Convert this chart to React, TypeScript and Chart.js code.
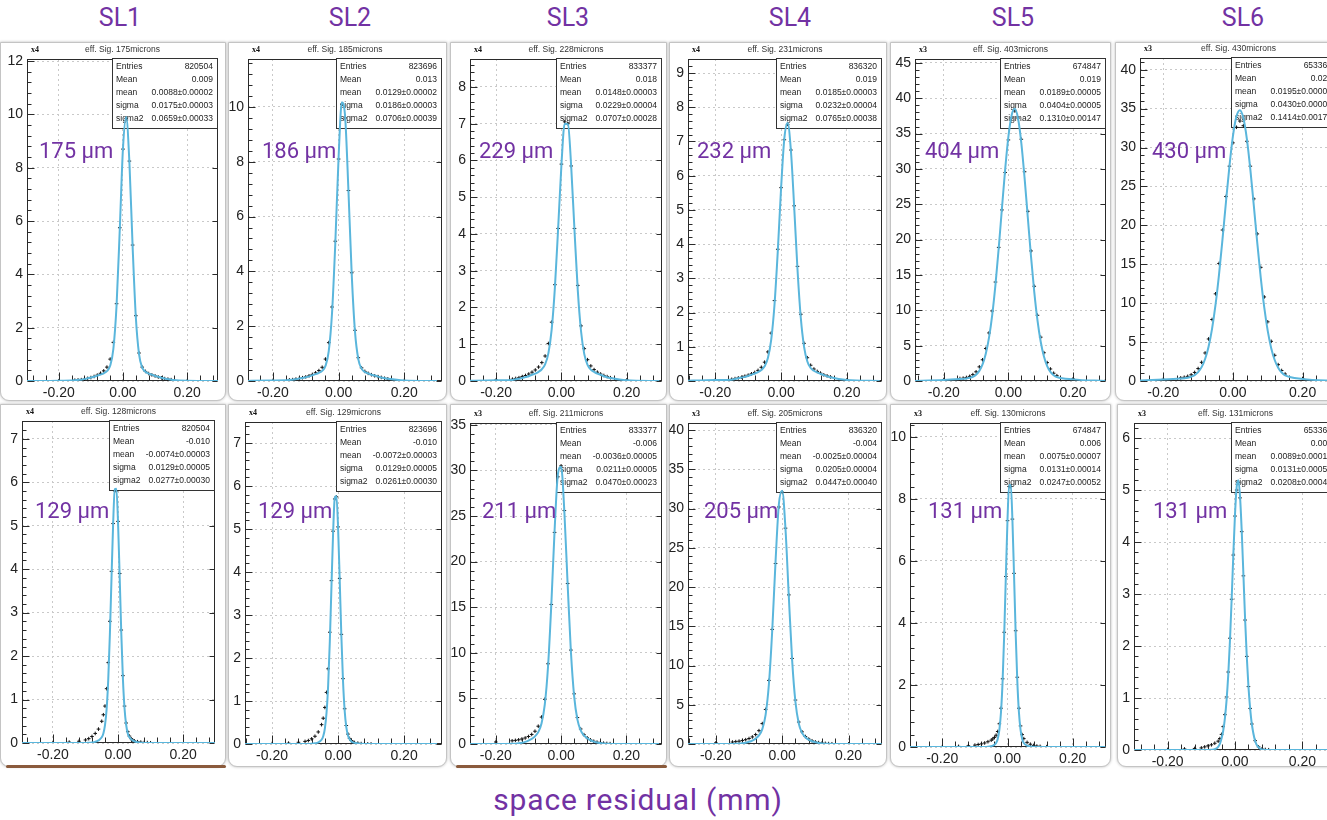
import React, { useEffect, useRef } from "react";
import { Chart, registerables } from "chart.js";
Chart.register(...registerables);

// ---------- shared grids ----------
const GRID_W = [-0.30, -0.20, -0.15, -0.14, -0.13, -0.12, -0.11, -0.10, -0.09, -0.08, -0.07, -0.06, -0.05, -0.04, -0.03, -0.02, -0.01, 0.00, 0.01, 0.02, 0.03, 0.04, 0.05, 0.06, 0.07, 0.08, 0.09, 0.10, 0.11, 0.12, 0.13, 0.14, 0.15, 0.20, 0.30];
const GRID_N = [-0.30, -0.20, -0.15, -0.12, -0.10, -0.09, -0.08, -0.07, -0.06, -0.05, -0.045, -0.04, -0.035, -0.03, -0.025, -0.02, -0.015, -0.01, -0.005, 0.00, 0.005, 0.01, 0.015, 0.02, 0.025, 0.03, 0.035, 0.04, 0.045, 0.05, 0.06, 0.07, 0.08, 0.09, 0.10, 0.12, 0.15, 0.20, 0.30];

// ---------- top row (SL1..SL6) ----------
const FIT_1 = [0, 0.01, 0.03, 0.04, 0.05, 0.07, 0.10, 0.13, 0.16, 0.20, 0.24, 0.29, 0.37, 0.57, 1.20, 2.83, 5.69, 8.73, 9.90, 8.20, 5.05, 2.40, 1.01, 0.50, 0.35, 0.28, 0.24, 0.19, 0.16, 0.12, 0.09, 0.07, 0.05, 0.01, 0];
const DATA_1 = [0, 0.01, 0.03, 0.04, 0.05, 0.07, 0.10, 0.13, 0.17, 0.22, 0.29, 0.38, 0.52, 0.82, 1.45, 2.90, 5.75, 8.70, 9.85, 8.25, 5.10, 2.45, 1.05, 0.52, 0.36, 0.28, 0.23, 0.19, 0.15, 0.12, 0.09, 0.07, 0.05, 0.01, 0];
const FIT_2 = [0, 0.02, 0.04, 0.05, 0.06, 0.09, 0.11, 0.14, 0.17, 0.21, 0.25, 0.30, 0.37, 0.55, 1.09, 2.48, 5.04, 8.17, 10.17, 9.63, 6.94, 3.89, 1.79, 0.80, 0.45, 0.33, 0.28, 0.23, 0.20, 0.16, 0.13, 0.10, 0.08, 0.02, 0];
const DATA_2 = [0, 0.02, 0.04, 0.05, 0.07, 0.09, 0.12, 0.15, 0.19, 0.24, 0.30, 0.38, 0.50, 0.80, 1.40, 2.70, 5.10, 8.10, 10.10, 9.60, 6.95, 3.95, 1.85, 0.85, 0.48, 0.35, 0.28, 0.23, 0.19, 0.16, 0.13, 0.10, 0.08, 0.02, 0];
const FIT_3 = [0, 0.02, 0.03, 0.05, 0.06, 0.08, 0.11, 0.13, 0.17, 0.20, 0.25, 0.32, 0.45, 0.75, 1.39, 2.54, 4.17, 5.88, 7.00, 6.98, 5.82, 4.10, 2.48, 1.36, 0.73, 0.44, 0.31, 0.25, 0.20, 0.17, 0.13, 0.10, 0.08, 0.02, 0];
const DATA_3 = [0, 0.03, 0.05, 0.07, 0.09, 0.12, 0.15, 0.19, 0.24, 0.30, 0.38, 0.50, 0.68, 1.02, 1.60, 2.62, 4.15, 5.90, 7.05, 7.00, 5.85, 4.15, 2.60, 1.50, 0.88, 0.58, 0.41, 0.31, 0.24, 0.19, 0.15, 0.12, 0.09, 0.03, 0];
const FIT_4 = [0, 0.03, 0.04, 0.06, 0.08, 0.10, 0.12, 0.15, 0.18, 0.22, 0.26, 0.32, 0.43, 0.67, 1.20, 2.22, 3.78, 5.62, 7.09, 7.54, 6.73, 5.07, 3.26, 1.85, 1.00, 0.57, 0.38, 0.30, 0.25, 0.21, 0.17, 0.14, 0.11, 0.03, 0];
const DATA_4 = [0, 0.03, 0.05, 0.07, 0.09, 0.11, 0.14, 0.17, 0.21, 0.25, 0.31, 0.40, 0.55, 0.85, 1.40, 2.35, 3.85, 5.65, 7.05, 7.50, 6.75, 5.12, 3.35, 1.95, 1.10, 0.68, 0.46, 0.35, 0.28, 0.23, 0.18, 0.15, 0.12, 0.03, 0];
const FIT_5 = [0, 0.15, 0.27, 0.30, 0.36, 0.45, 0.60, 0.90, 1.43, 2.34, 3.84, 6.13, 9.37, 13.64, 18.78, 24.41, 29.93, 34.56, 37.59, 38.50, 37.10, 33.66, 28.76, 23.16, 17.59, 12.61, 8.57, 5.55, 3.45, 2.10, 1.28, 0.82, 0.56, 0.23, 0];
const DATA_5 = [0.02, 0.20, 0.35, 0.40, 0.50, 0.65, 0.90, 1.30, 2.00, 3.00, 4.60, 6.80, 9.90, 14.0, 18.9, 24.2, 29.5, 34.1, 37.2, 38.2, 37.2, 34.2, 29.6, 24.0, 18.4, 13.4, 9.3, 6.2, 4.0, 2.6, 1.7, 1.1, 0.75, 0.30, 0.02];
const FIT_6 = [0, 0.18, 0.31, 0.35, 0.42, 0.55, 0.76, 1.14, 1.78, 2.82, 4.41, 6.70, 9.80, 13.68, 18.20, 23.00, 27.60, 31.45, 33.98, 34.80, 33.79, 31.12, 27.18, 22.53, 17.72, 13.26, 9.45, 6.44, 4.22, 2.70, 1.70, 1.09, 0.73, 0.27, 0];
const DATA_6 = [0.02, 0.22, 0.40, 0.48, 0.60, 0.80, 1.10, 1.60, 2.40, 3.60, 5.40, 7.90, 11.2, 15.1, 19.4, 23.7, 27.6, 30.6, 32.6, 33.4, 32.8, 30.8, 27.6, 23.4, 18.9, 14.6, 10.8, 7.6, 5.1, 3.3, 2.1, 1.35, 0.90, 0.32, 0.02];

// ---------- bottom row ----------
const FIT_7 = [0, 0, 0, 0, 0, 0.004, 0.011, 0.027, 0.06, 0.13, 0.22, 0.41, 0.78, 1.46, 2.50, 3.79, 5.04, 5.84, 5.85, 5.09, 3.85, 2.54, 1.49, 0.80, 0.42, 0.22, 0.13, 0.09, 0.06, 0.04, 0.018, 0.007, 0.002, 0, 0, 0, 0, 0, 0];
const DATA_7 = [0, 0.01, 0.02, 0.04, 0.07, 0.10, 0.15, 0.22, 0.32, 0.50, 0.65, 0.85, 1.25, 1.85, 2.80, 3.95, 5.05, 5.80, 5.80, 5.10, 3.90, 2.60, 1.55, 0.85, 0.46, 0.26, 0.16, 0.10, 0.07, 0.05, 0.03, 0.02, 0.01, 0.01, 0.005, 0, 0, 0, 0];
const FIT_8 = [0, 0, 0, 0, 0, 0.001, 0.004, 0.017, 0.04, 0.10, 0.18, 0.36, 0.72, 1.37, 2.38, 3.66, 4.91, 5.72, 5.77, 5.04, 3.82, 2.52, 1.47, 0.78, 0.39, 0.20, 0.11, 0.065, 0.04, 0.027, 0.011, 0.004, 0.001, 0, 0, 0, 0, 0, 0];
const DATA_8 = [0, 0.01, 0.02, 0.04, 0.06, 0.08, 0.12, 0.18, 0.28, 0.45, 0.60, 0.85, 1.20, 1.75, 2.60, 3.80, 4.95, 5.70, 5.75, 5.05, 3.85, 2.55, 1.52, 0.82, 0.43, 0.23, 0.13, 0.08, 0.05, 0.035, 0.02, 0.01, 0.005, 0.003, 0.002, 0, 0, 0, 0];
const FIT_9 = [0, 0, 0.02, 0.04, 0.08, 0.14, 0.23, 0.37, 0.56, 0.84, 1.30, 2.24, 4.31, 8.50, 15.27, 23.37, 29.52, 30.39, 25.46, 17.52, 10.14, 5.23, 2.67, 1.50, 0.94, 0.63, 0.41, 0.26, 0.16, 0.10, 0.05, 0.03, 0.01, 0, 0];
const DATA_9 = [0.10, 0.22, 0.35, 0.40, 0.46, 0.55, 0.66, 0.82, 1.05, 1.40, 1.95, 2.95, 4.90, 8.80, 15.3, 23.2, 29.3, 30.5, 25.6, 17.6, 10.3, 5.5, 2.9, 1.65, 1.02, 0.68, 0.45, 0.30, 0.20, 0.13, 0.09, 0.06, 0.04, 0.01, 0];
const FIT_10 = [0, 0, 0.01, 0.03, 0.05, 0.10, 0.17, 0.28, 0.44, 0.69, 1.09, 1.89, 3.72, 7.64, 14.47, 23.27, 30.55, 32.28, 27.38, 18.79, 10.69, 5.35, 2.62, 1.41, 0.86, 0.55, 0.35, 0.22, 0.13, 0.07, 0.04, 0.02, 0.01, 0, 0];
const DATA_10 = [0.05, 0.15, 0.25, 0.30, 0.36, 0.44, 0.55, 0.70, 0.90, 1.20, 1.70, 2.60, 4.40, 8.10, 14.6, 23.0, 30.2, 32.1, 27.5, 19.0, 10.9, 5.6, 2.8, 1.55, 0.95, 0.62, 0.41, 0.27, 0.18, 0.12, 0.08, 0.05, 0.03, 0.01, 0];
const FIT_11 = [0, 0, 0, 0, 0, 0, 0, 0.001, 0.01, 0.027, 0.042, 0.07, 0.13, 0.26, 0.55, 1.12, 2.14, 3.67, 5.55, 7.34, 8.45, 8.45, 7.34, 5.55, 3.67, 2.14, 1.12, 0.55, 0.26, 0.13, 0.042, 0.016, 0.005, 0.001, 0, 0, 0, 0, 0];
const DATA_11 = [0, 0.01, 0.02, 0.04, 0.06, 0.08, 0.10, 0.13, 0.17, 0.22, 0.26, 0.31, 0.38, 0.50, 0.75, 1.25, 2.20, 3.70, 5.50, 7.30, 8.40, 8.40, 7.35, 5.60, 3.75, 2.25, 1.25, 0.68, 0.40, 0.27, 0.15, 0.09, 0.05, 0.03, 0.02, 0.01, 0, 0, 0];
const FIT_12 = [0, 0, 0, 0, 0, 0, 0, 0.003, 0.014, 0.062, 0.12, 0.22, 0.37, 0.61, 0.96, 1.45, 2.10, 2.89, 3.75, 4.53, 5.06, 5.19, 4.87, 4.21, 3.37, 2.52, 1.80, 1.22, 0.80, 0.50, 0.17, 0.05, 0.01, 0.002, 0, 0, 0, 0, 0];
const DATA_12 = [0, 0.01, 0.02, 0.03, 0.04, 0.06, 0.08, 0.10, 0.13, 0.17, 0.22, 0.30, 0.45, 0.68, 1.02, 1.50, 2.15, 2.90, 3.75, 4.50, 5.00, 5.15, 4.85, 4.20, 3.35, 2.50, 1.80, 1.22, 0.80, 0.50, 0.18, 0.06, 0.02, 0.01, 0.005, 0, 0, 0, 0];

// ---------- texts ----------
const SL_LABELS = ["SL1", "SL2", "SL3", "SL4", "SL5", "SL6"];
const TITLES = ["eff. Sig. 175microns", "eff. Sig. 185microns", "eff. Sig. 228microns", "eff. Sig. 231microns", "eff. Sig. 403microns", "eff. Sig. 430microns",
  "eff. Sig. 128microns", "eff. Sig. 129microns", "eff. Sig. 211microns", "eff. Sig. 205microns", "eff. Sig. 130microns", "eff. Sig. 131microns"];
const MULTS = ["x4", "x4", "x4", "x4", "x3", "x3", "x4", "x4", "x3", "x3", "x3", "x3"];
const RES_LABELS = ["175 µm", "186 µm", "229 µm", "232 µm", "404 µm", "430 µm", "129 µm", "129 µm", "211 µm", "205 µm", "131 µm", "131 µm"];
const STAT_NAMES = ["Entries", "Mean", "mean", "sigma", "sigma2"];
const STATS = [
  ["820504", "0.009", "0.0088±0.00002", "0.0175±0.00003", "0.0659±0.00033"],
  ["823696", "0.013", "0.0129±0.00002", "0.0186±0.00003", "0.0706±0.00039"],
  ["833377", "0.018", "0.0148±0.00003", "0.0229±0.00004", "0.0707±0.00028"],
  ["836320", "0.019", "0.0185±0.00003", "0.0232±0.00004", "0.0765±0.00038"],
  ["674847", "0.019", "0.0189±0.00005", "0.0404±0.00005", "0.1310±0.00147"],
  ["653362", "0.020", "0.0195±0.00005", "0.0430±0.00005", "0.1414±0.00170"],
  ["820504", "-0.010", "-0.0074±0.00003", "0.0129±0.00005", "0.0277±0.00030"],
  ["823696", "-0.010", "-0.0072±0.00003", "0.0129±0.00005", "0.0261±0.00030"],
  ["833377", "-0.006", "-0.0036±0.00005", "0.0211±0.00005", "0.0470±0.00023"],
  ["836320", "-0.004", "-0.0025±0.00004", "0.0205±0.00004", "0.0447±0.00040"],
  ["674847", "0.006", "0.0075±0.00007", "0.0131±0.00014", "0.0247±0.00052"],
  ["653362", "0.009", "0.0089±0.00010", "0.0131±0.00050", "0.0208±0.00040"],
];
const X_TICKS = [-0.2, 0, 0.2];
const X_MINOR = [-0.28, -0.24, -0.16, -0.12, -0.08, -0.04, 0.04, 0.08, 0.12, 0.16, 0.24, 0.28];
const Y_TICKS = [
  [0, 2, 4, 6, 8, 10, 12], [0, 2, 4, 6, 8, 10], [0, 1, 2, 3, 4, 5, 6, 7, 8], [0, 1, 2, 3, 4, 5, 6, 7, 8, 9],
  [0, 5, 10, 15, 20, 25, 30, 35, 40, 45], [0, 5, 10, 15, 20, 25, 30, 35, 40],
  [0, 1, 2, 3, 4, 5, 6, 7], [0, 1, 2, 3, 4, 5, 6, 7], [0, 5, 10, 15, 20, 25, 30, 35], [0, 5, 10, 15, 20, 25, 30, 35, 40],
  [0, 2, 4, 6, 8, 10], [0, 1, 2, 3, 4, 5, 6],
];

// ---------- layout (page px) ----------
const PURPLE = "#7232a3";
const BLUE = "#5ab6dc";
type Panel = {
  grid: number[]; fit: number[]; data: number[]; idx: number;
  frame: number[]; plot: number[]; xr: number[]; yMax: number; yMinor: number;
  res: number[]; brown?: boolean;
};
const PANELS: Panel[] = [
  { idx: 0, grid: GRID_W, fit: FIT_1, data: DATA_1, frame: [0, 42, 226, 359], plot: [27, 59, 218, 381], xr: [-0.299, 0.296], yMax: 12.08, yMinor: 0.4, res: [39, 151] },
  { idx: 1, grid: GRID_W, fit: FIT_2, data: DATA_2, frame: [228, 42, 219, 359], plot: [248, 59, 443, 381], xr: [-0.276, 0.315], yMax: 11.75, yMinor: 0.4, res: [262, 151] },
  { idx: 2, grid: GRID_W, fit: FIT_3, data: DATA_3, frame: [450, 42, 217, 359], plot: [470, 59, 663, 381], xr: [-0.280, 0.308], yMax: 8.76, yMinor: 0.2, res: [479, 151] },
  { idx: 3, grid: GRID_W, fit: FIT_4, data: DATA_4, frame: [669, 42, 218, 359], plot: [688, 59, 884, 381], xr: [-0.283, 0.307], yMax: 9.41, yMinor: 0.2, res: [697, 151] },
  { idx: 4, grid: GRID_W, fit: FIT_5, data: DATA_5, frame: [890, 42, 221, 359], plot: [915, 59, 1107, 381], xr: [-0.289, 0.302], yMax: 45.55, yMinor: 1, res: [925, 151] },
  { idx: 5, grid: GRID_W, fit: FIT_6, data: DATA_6, frame: [1115, 42, 230, 359], plot: [1140, 58, 1337, 381], xr: [-0.267, 0.299], yMax: 41.5, yMinor: 1, res: [1152, 151] },
  { idx: 6, grid: GRID_N, fit: FIT_7, data: DATA_7, frame: [0, 404, 226, 363], plot: [22, 421, 215, 743], xr: [-0.295, 0.298], yMax: 7.41, yMinor: 0.2, res: [35, 511], brown: true },
  { idx: 7, grid: GRID_N, fit: FIT_8, data: DATA_8, frame: [228, 404, 219, 363], plot: [245, 422, 442, 744], xr: [-0.282, 0.315], yMax: 7.49, yMinor: 0.2, res: [258, 511] },
  { idx: 8, grid: GRID_W, fit: FIT_9, data: DATA_9, frame: [450, 404, 217, 363], plot: [470, 423, 664, 744], xr: [-0.279, 0.309], yMax: 35.2, yMinor: 1, res: [482, 511], brown: true },
  { idx: 9, grid: GRID_W, fit: FIT_10, data: DATA_10, frame: [669, 404, 218, 363], plot: [688, 423, 884, 744], xr: [-0.284, 0.301], yMax: 40.9, yMinor: 1, res: [704, 511] },
  { idx: 10, grid: GRID_N, fit: FIT_11, data: DATA_11, frame: [890, 404, 221, 363], plot: [910, 423, 1107, 747], xr: [-0.299, 0.302], yMax: 10.45, yMinor: 0.4, res: [928, 511] },
  { idx: 11, grid: GRID_N, fit: FIT_12, data: DATA_12, frame: [1117, 404, 228, 363], plot: [1134, 423, 1337, 750], xr: [-0.300, 0.303], yMax: 6.29, yMinor: 0.2, res: [1153, 511] },
];
const SL_X = [120, 350, 568, 790, 1013, 1243];

const TICK_FONT = { family: "'Liberation Sans', Arial, sans-serif", size: 14 };

function makePlugin(p: Panel) {
  return {
    id: "rootPanel" + p.idx,
    beforeDatasetsDraw(chart: any) {
      const { ctx, chartArea: a } = chart;
      const xs = chart.scales.x, ys = chart.scales.y;
      ctx.save();
      ctx.strokeStyle = "#2a2a2a";
      ctx.lineWidth = 1;
      const L = Math.round(a.left) + 0.5, T = Math.round(a.top) + 0.5;
      const R = Math.round(a.right) - 0.5, B = Math.round(a.bottom) - 0.5;
      ctx.strokeRect(L, T, R - L, B - T);
      ctx.beginPath();
      // y ticks (inward)
      const yt = Y_TICKS[p.idx];
      yt.forEach((v) => {
        const y = Math.round(ys.getPixelForValue(v)) + 0.5;
        ctx.moveTo(L, y); ctx.lineTo(L + 7, y);
        ctx.moveTo(R, y); ctx.lineTo(R - 5, y);
      });
      for (let k = 1; k * p.yMinor < p.yMax; k++) {
        const v = k * p.yMinor;
        if (yt.some((t) => Math.abs(t - v) < 1e-6)) continue;
        const y = Math.round(ys.getPixelForValue(v)) + 0.5;
        ctx.moveTo(L, y); ctx.lineTo(L + 4, y);
      }
      X_TICKS.forEach((v) => {
        const x = Math.round(xs.getPixelForValue(v)) + 0.5;
        ctx.moveTo(x, B); ctx.lineTo(x, B - 8);
      });
      X_MINOR.forEach((v) => {
        if (v < p.xr[0] || v > p.xr[1]) return;
        const x = Math.round(xs.getPixelForValue(v)) + 0.5;
        ctx.moveTo(x, B); ctx.lineTo(x, B - 5);
      });
      ctx.stroke();
      // stats box
      const bw = 105, bh = 70;
      const bx = Math.round(a.right) - 1 - bw, by = Math.round(a.top) - 1;
      ctx.fillStyle = "#ffffff";
      ctx.fillRect(bx, by, bw, bh);
      ctx.strokeStyle = "#333";
      ctx.strokeRect(bx + 0.5, by + 0.5, bw, bh);
      ctx.font = "8.5px 'Liberation Sans', Arial, sans-serif";
      ctx.fillStyle = "#222";
      ctx.textBaseline = "middle";
      const st = STATS[p.idx];
      STAT_NAMES.forEach((n, i) => {
        const y = by + 9 + i * 12.8;
        ctx.textAlign = "left";
        ctx.fillText(n, bx + 4, y);
        ctx.textAlign = "right";
        ctx.fillText(st[i], bx + bw - 4, y);
      });
      ctx.restore();
    },
    afterDraw(chart: any) {
      const { ctx, chartArea: a } = chart;
      ctx.save();
      ctx.textBaseline = "middle";
      ctx.fillStyle = "#333";
      ctx.font = "8.5px 'Liberation Sans', Arial, sans-serif";
      ctx.textAlign = "center";
      ctx.fillText(TITLES[p.idx], (a.left + a.right) / 2, a.top - 9);
      ctx.font = "bold 8px 'Liberation Serif', serif";
      ctx.textAlign = "left";
      ctx.fillStyle = "#111";
      ctx.fillText(MULTS[p.idx], a.left + 4, a.top - 9);
      ctx.restore();
    },
  };
}

function PanelChart({ p }: { p: Panel }) {
  const ref = useRef<HTMLCanvasElement>(null);
  const [fl, ft, W, H] = p.frame;
  const [pl, pt, pr, pb] = p.plot;
  const cw = Math.max(W, pr - fl + 2);
  useEffect(() => {
    const canvas = ref.current!;
    const fitPts = p.grid.map((x, i) => ({ x, y: p.fit[i] }));
    const dataPts = p.grid.map((x, i) => ({ x, y: p.data[i] })).filter((d) => d.y > 0);
    const yt = Y_TICKS[p.idx];
    const chart = new Chart(canvas, {
      type: "line",
      data: {
        datasets: [
          { data: fitPts, borderColor: BLUE, borderWidth: 2, pointRadius: 0, cubicInterpolationMode: "monotone", fill: false } as any,
          { data: dataPts, showLine: false, pointStyle: "cross", pointRadius: 1.8, pointBorderColor: "#111", pointBorderWidth: 1, pointBackgroundColor: "#111", borderColor: "#111" } as any,
        ],
      },
      options: {
        responsive: false,
        animation: false,
        devicePixelRatio: 1,
        events: [],
        layout: { padding: { left: 0, top: pt - ft, right: cw - (pr - fl), bottom: 0 } },
        plugins: { legend: { display: false }, tooltip: { enabled: false } },
        scales: {
          x: {
            type: "linear",
            min: p.xr[0],
            max: p.xr[1],
            afterBuildTicks: (s: any) => { s.ticks = X_TICKS.map((v) => ({ value: v })); },
            afterFit: (s: any) => { s.height = H - (pb - ft); },
            ticks: { callback: (v: any) => Number(v).toFixed(2), font: TICK_FONT, color: "#222", padding: 4, maxRotation: 0, autoSkip: false },
            grid: { color: "#c9c9c9", lineWidth: 1, drawTicks: false },
            border: { display: false, dash: [2, 3] },
          },
          y: {
            type: "linear",
            min: 0,
            max: p.yMax,
            afterBuildTicks: (s: any) => { s.ticks = yt.map((v) => ({ value: v })); },
            afterFit: (s: any) => { s.width = pl - fl; },
            ticks: { callback: (v: any) => String(v), font: TICK_FONT, color: "#222", padding: 4, autoSkip: false },
            grid: { color: "#c9c9c9", lineWidth: 1, drawTicks: false },
            border: { display: false, dash: [2, 3] },
          },
        },
      } as any,
      plugins: [makePlugin(p) as any],
    });
    return () => chart.destroy();
  }, [p]);
  return (
    <canvas ref={ref} width={cw} height={H}
      style={{ position: "absolute", left: fl, top: ft, width: cw, height: H, display: "block" }} />
  );
}

export default function App() {
  return (
    <div style={{ position: "fixed", left: 0, top: 0, width: 1327, height: 820, overflow: "hidden", background: "#ffffff", fontFamily: "Roboto, 'Open Sans', sans-serif" }}>
      {PANELS.map((p) => (
        <div key={"f" + p.idx} style={{
          position: "absolute", left: p.frame[0], top: p.frame[1], width: p.frame[2], height: p.frame[3],
          background: "#fff", border: "1px solid #c4c4c4", boxSizing: "border-box",
          borderRadius: "0 0 9px 9px", boxShadow: "0 0 3px rgba(0,0,0,0.28)",
        }} />
      ))}
      {PANELS.filter((p) => p.brown).map((p) => (
        <div key={"b" + p.idx} style={{
          position: "absolute", left: p.frame[0] + 6, top: p.frame[1] + p.frame[3] - 2, width: p.frame[2] - 6, height: 3,
          background: "#8a5a3c", borderRadius: 2,
        }} />
      ))}
      {PANELS.map((p) => <PanelChart key={"c" + p.idx} p={p} />)}
      {PANELS.map((p) => (
        <div key={"r" + p.idx} style={{
          position: "absolute", left: p.res[0], top: p.res[1] - 13, fontSize: 22, lineHeight: "26px",
          color: PURPLE, whiteSpace: "nowrap", fontFamily: "Roboto, sans-serif",
        }}>{RES_LABELS[p.idx]}</div>
      ))}
      {SL_LABELS.map((s, i) => (
        <div key={s} style={{
          position: "absolute", left: SL_X[i] - 50, width: 100, top: 3, textAlign: "center",
          fontSize: 25, lineHeight: "30px", color: PURPLE,
        }}>{s}</div>
      ))}
      <div style={{
        position: "absolute", left: 438, width: 400, top: 782, textAlign: "center",
        fontSize: 30, lineHeight: "36px", color: PURPLE, letterSpacing: 0.8,
      }}>space residual (mm)</div>
    </div>
  );
}
